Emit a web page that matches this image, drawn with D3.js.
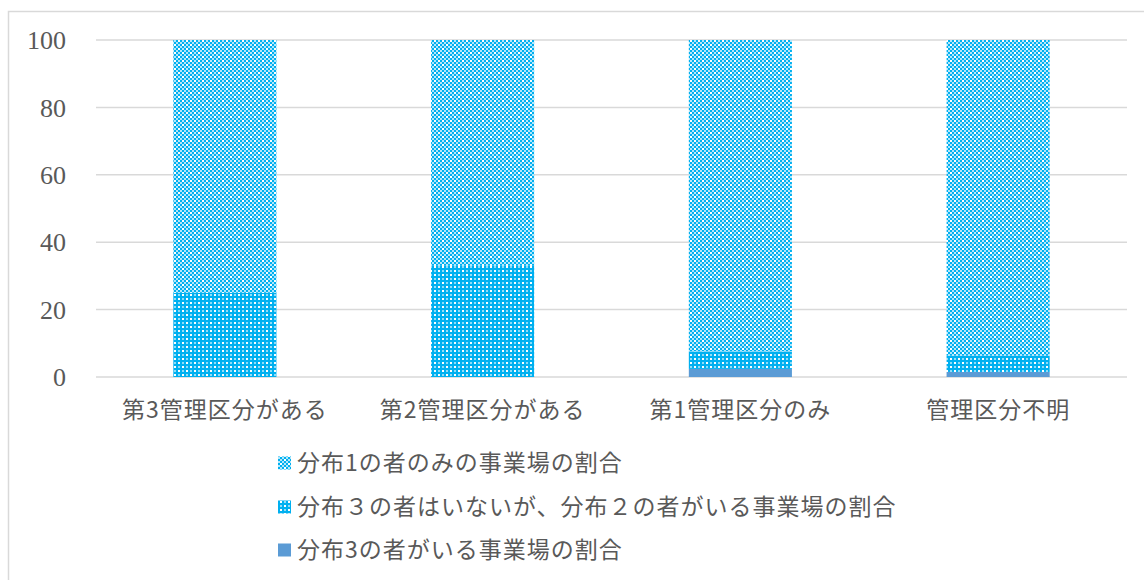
<!DOCTYPE html>
<html><head><meta charset="utf-8">
<script src="https://cdn.jsdelivr.net/npm/d3@7"></script>
<style>body{margin:0;background:#fff}svg{display:block}</style>
</head><body>
<svg id="c" width="1144" height="580"></svg>
<script>
const categories = ["第3管理区分がある","第2管理区分がある","第1管理区分のみ","管理区分不明"];
const seriesNames = ["分布1の者のみの事業場の割合","分布３の者はいないが、分布２の者がいる事業場の割合","分布3の者がいる事業場の割合"];
const s1 = [75, 67, 92.4, 93.7];
const s2 = [25, 33, 5.2, 4.8];
const s3 = [0, 0, 2.4, 1.5];
const yTicks = [0, 20, 40, 60, 80, 100];

const svg = d3.select("#c");
const defs = svg.append("defs");
// pattern for series 1 (light)
const pA = defs.append("pattern").attr("id","pA").attr("width",8).attr("height",8).attr("patternUnits","userSpaceOnUse");
pA.append("rect").attr("width",8).attr("height",8).attr("fill","#b3e6fa");
[[0,0],[4,0],[2,2],[6,2],[0,4],[4,4],[2,6],[6,6]].forEach(([x,y])=>pA.append("rect").attr("x",x).attr("y",y).attr("width",2).attr("height",2).attr("fill","#00B0F0"));
pA.append("rect").attr("x",2).attr("y",0).attr("width",2).attr("height",2).attr("fill","#ffffff");
pA.append("rect").attr("x",6).attr("y",4).attr("width",2).attr("height",2).attr("fill","#ffffff");
// pattern for series 2 (dense)
const pB = defs.append("pattern").attr("id","pB").attr("width",8).attr("height",8).attr("patternUnits","userSpaceOnUse");
pB.append("rect").attr("width",8).attr("height",8).attr("fill","#00B0F0");
[[2,2],[6,6]].forEach(([x,y])=>pB.append("rect").attr("x",x).attr("y",y).attr("width",2).attr("height",2).attr("fill","#ffffff"));
[[6,2],[2,6]].forEach(([x,y])=>pB.append("rect").attr("x",x).attr("y",y).attr("width",2).attr("height",2).attr("fill","#8fdaf6"));

const fills = ["url(#pA)","url(#pB)","#5B9BD5"];

// outer border
svg.append("rect").attr("x",8.5).attr("y",11.5).attr("width",1150).attr("height",590)
  .attr("fill","none").attr("stroke","#d9d9d9").attr("stroke-width",1.5);

const x = d3.scaleBand().domain(categories).range([96,1127]).paddingInner(0.6).paddingOuter(0.3);
const y = d3.scaleLinear().domain([0,100]).range([377,40]);

// grid
svg.append("g").selectAll("line").data(yTicks).join("line")
  .attr("x1",96).attr("x2",1127).attr("y1",d=>y(d)).attr("y2",d=>y(d))
  .attr("stroke","#d9d9d9").attr("stroke-width",1.5);

// y labels
svg.append("g").selectAll("text").data(yTicks).join("text")
  .attr("x",66).attr("y",d=>y(d)).attr("dy","0.35em").attr("text-anchor","end")
  .attr("font-family","'Liberation Serif','DejaVu Serif',serif").attr("font-size",26).attr("fill","#595959")
  .text(d=>d);

// stacked data
const rows = categories.map((c,i)=>({cat:c, a:s3[i], b:s2[i], c1:s1[i]}));
const stack = d3.stack().keys(["a","b","c1"]);
const layers = stack(rows);
const layerFill = {a:fills[2], b:fills[1], c1:fills[0]};
svg.append("g").selectAll("g").data(layers).join("g")
  .attr("fill",d=>layerFill[d.key])
  .selectAll("rect").data(d=>d).join("rect")
  .attr("x",d=>x(d.data.cat)).attr("width",x.bandwidth())
  .attr("y",d=>y(d[1])).attr("height",d=>Math.max(0,y(d[0])-y(d[1])));

// x labels
const jp = "'Noto Sans CJK JP','Noto Sans CJK SC',sans-serif";
svg.append("g").selectAll("text").data(categories).join("text")
  .attr("x",d=>x(d)+x.bandwidth()/2).attr("y",410).attr("dy","0.35em").attr("text-anchor","middle")
  .attr("font-family",jp).attr("font-size",23).attr("letter-spacing",1).attr("fill","#595959")
  .text(d=>d);

// legend
const legY = [463,507,550];
const leg = svg.append("g").selectAll("g").data(seriesNames).join("g")
  .attr("transform",(d,i)=>`translate(278,${legY[i]})`);
leg.append("rect").attr("x",0).attr("y",-6.5).attr("width",13).attr("height",13).attr("fill",(d,i)=>fills[i]);
leg.append("text").attr("x",19).attr("dy","0.35em")
  .attr("font-family",jp).attr("font-size",23).attr("letter-spacing",1).attr("fill","#595959")
  .text(d=>d);
</script>
</body></html>
